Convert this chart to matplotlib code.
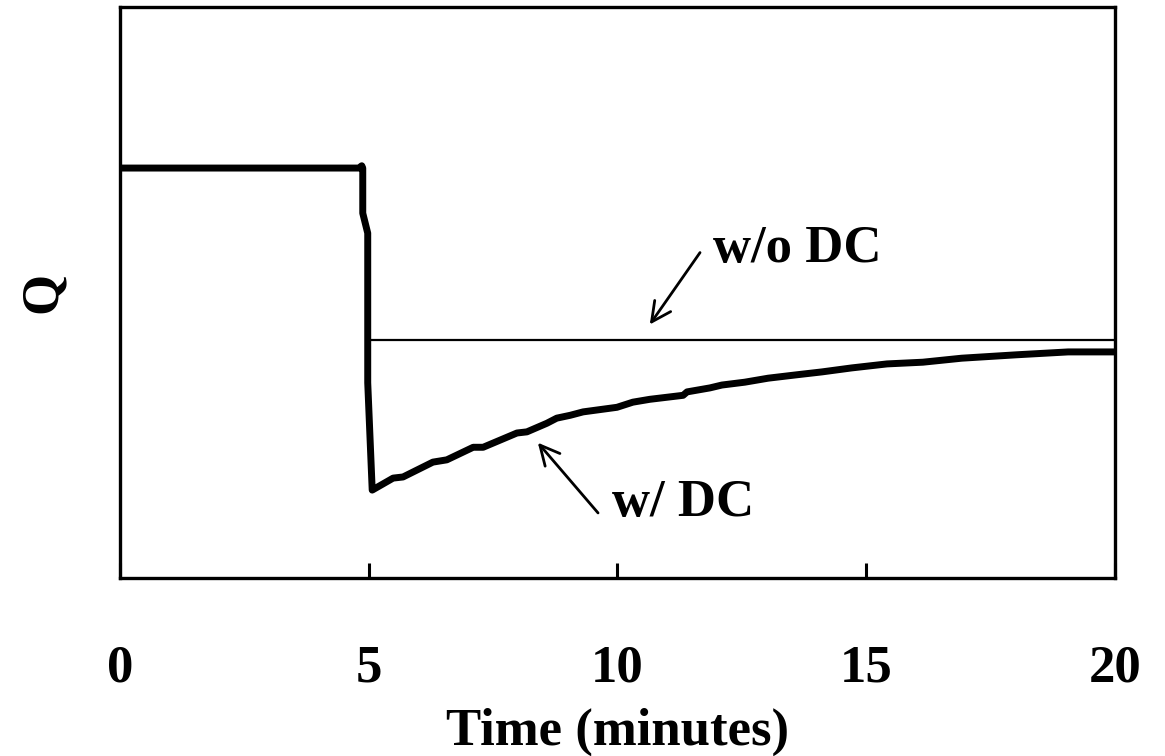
import matplotlib
matplotlib.use("Agg")
import matplotlib.pyplot as plt

plt.rcParams['font.family'] = ['Liberation Serif', 'DejaVu Serif']
plt.rcParams['font.weight'] = 'bold'

# Time axis (minutes)
x_ticks = [0, 5, 10, 15, 20]
x_tick_labels = ['0', '5', '10', '15', '20']

# Response with DC: flat level, sharp drop at t = 5, then slow recovery
t_with_dc = [0.0, 4.80, 4.86, 4.88, 4.88, 4.98, 4.98, 5.07,
             5.49, 5.69, 6.29, 6.57, 7.10, 7.30, 7.98, 8.18, 8.58, 8.78,
             9.05, 9.31, 9.99, 10.31, 10.65, 11.32, 11.40, 11.86,
             12.10, 12.56, 13.03, 13.61, 14.11, 14.71, 15.42, 16.14,
             16.92, 18.03, 19.06, 20.0]
q_with_dc = [0.718, 0.718, 0.722, 0.718, 0.639, 0.604, 0.342, 0.154,
             0.175, 0.177, 0.203, 0.207, 0.229, 0.229, 0.254, 0.256, 0.271, 0.280,
             0.285, 0.291, 0.299, 0.308, 0.313, 0.320, 0.326, 0.333,
             0.338, 0.343, 0.350, 0.356, 0.361, 0.368, 0.375, 0.378,
             0.385, 0.391, 0.396, 0.396]

# Response without DC: settles immediately at the new level
t_without_dc = [5.0, 20.0]
q_without_dc = [0.417, 0.417]

fig = plt.figure(figsize=(11.65, 7.56), dpi=100)
ax = fig.add_axes([0.103, 0.2354, 0.854, 0.7553])

ax.plot(t_without_dc, q_without_dc, color='black', lw=1.6)
ax.plot(t_with_dc, q_with_dc, color='black', lw=5.0,
        solid_joinstyle='round', solid_capstyle='butt')

ax.set_xlim(0, 20)
ax.set_ylim(0, 1)
ax.set_xticks(x_ticks)
ax.set_xticklabels(x_tick_labels, fontsize=38, fontweight='bold')
ax.set_yticks([])
ax.tick_params(axis='x', direction='in', length=10.5, width=2.2, pad=48)

for sp in ax.spines.values():
    sp.set_linewidth(2.4)

ax.set_xlabel('Time (minutes)', fontsize=38, fontweight='bold', labelpad=11)
ax.set_ylabel('Q', fontsize=38, fontweight='bold', labelpad=38)

arrow = dict(arrowstyle='->,head_length=0.7,head_width=0.35',
             lw=2.0, color='black', shrinkA=0, shrinkB=0, mutation_scale=20)
ax.annotate('', xy=(10.65, 0.444), xytext=(11.66, 0.570), arrowprops=arrow)
ax.annotate('', xy=(8.40, 0.237), xytext=(9.61, 0.114), arrowprops=arrow)

ax.text(11.92, 0.554, 'w/o DC', fontsize=38, fontweight='bold', va='baseline', ha='left')
ax.text(9.89, 0.109, 'w/ DC', fontsize=38, fontweight='bold', va='baseline', ha='left')

fig.savefig('out.png', dpi=100)
